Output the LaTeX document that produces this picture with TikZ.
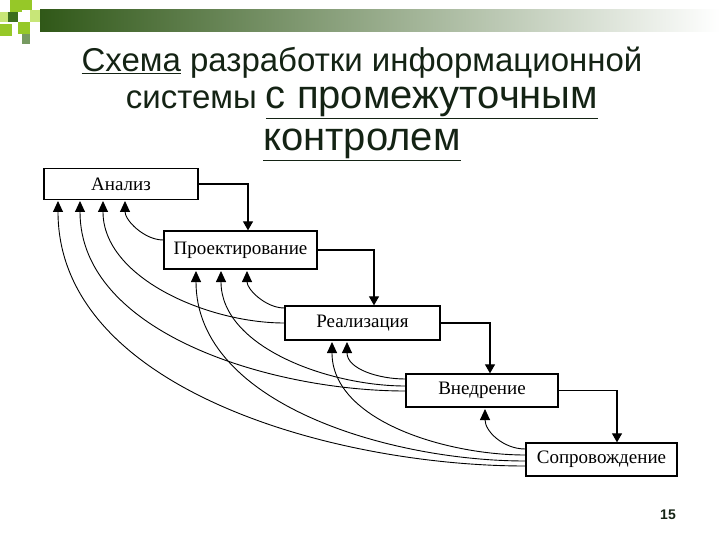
\documentclass[tikz,border=0pt]{standalone}
\usepackage{fontspec}
\setmainfont{Liberation Serif}
\newfontfamily\arialf{Liberation Sans}
\usetikzlibrary{arrows.meta}
\definecolor{ttl}{RGB}{20,35,20}
\definecolor{gA}{RGB}{60,110,30}
\definecolor{gB}{RGB}{150,200,40}
\definecolor{gC}{RGB}{200,230,120}
\tikzset{
  stage/.style={draw,line width=1.3pt,minimum height=31pt,inner sep=0pt,font=\fontsize{19}{19}\selectfont},
  fwd/.style={line width=1.2pt,-{Triangle[length=9pt,width=10pt]}},
  back/.style={line width=0.9pt,-{Triangle[length=11pt,width=10pt]}},
  ttlnode/.style={text=ttl,inner sep=0pt}
}
\begin{document}
\begin{tikzpicture}[x=1pt,y=-1pt]
\useasboundingbox (0,0) rectangle (720,540);
% banner
\shade[left color=gA!80!black,right color=white] (40,10) rectangle (720,32);
\fill[gB] (10,0) rectangle (22,12);
\fill[gC] (0,12) rectangle (10,22);
\fill[gA] (8,12) rectangle (18,22);
\fill[gB] (22,0) rectangle (32,10);
\fill[gB] (18,22) rectangle (30,34);
\fill[gC] (30,10) rectangle (40,22);
\fill[gB] (0,24) rectangle (12,36);
\fill[gA!70] (22,34) rectangle (30,44);
% title
\node[ttlnode,font=\arialf\fontsize{33}{33}\selectfont] (t1) at (362,63) {\underline{Схема} разработки информационной};
\node[ttlnode,font=\arialf\fontsize{33}{33}\selectfont] (t2) at (362,103) {системы {\fontsize{40}{40}\selectfont\underline{с промежуточным}}};
\node[ttlnode,font=\arialf\fontsize{40}{40}\selectfont] (t3) at (362,145) {\underline{контролем}};
\node[font=\arialf\bfseries\fontsize{14}{14}\selectfont,text=ttl] (pg) at (668,515) {15};
% stages
\node[stage,minimum width=154pt] (a) at (121,184) {Анализ};
\node[stage,minimum width=153pt,minimum height=38pt] (p) at (240.5,250) {Проектирование};
\node[stage,minimum width=155pt,minimum height=34pt] (r) at (362.5,323) {Реализация};
\node[stage,minimum width=152pt,minimum height=33pt] (v) at (482,390.5) {Внедрение};
\node[stage,minimum width=151pt,minimum height=33pt] (s) at (601.5,459.5) {Сопровождение};
% forward
\draw[fwd] (a.east) -| (p.north -| 248,0);
\draw[fwd] (p.east) -| (374,0 |- r.north);
\draw[fwd] (r.east) -| (490,0 |- v.north);
\draw[fwd] (v.east) -| (617,0 |- s.north);
% feedback targets
\coordinate (a1) at (58,201); \coordinate (a2) at (80,201);
\coordinate (a3) at (103,201); \coordinate (a4) at (125,201);
\coordinate (p1) at (196,271); \coordinate (p2) at (221,271); \coordinate (p3) at (247,271);
\coordinate (r1) at (332,342); \coordinate (r2) at (347,342);
\coordinate (v1) at (485,409);
% feedback
\draw[back] (p.west |- 0,240) to[out=180,in=-90,looseness=0.9] (a4);
\draw[back] (r.west |- 0,323) to[out=180,in=-90,looseness=0.9] (a3);
\draw[back] (r.west |- 0,308) to[out=180,in=-90,looseness=0.9] (p3);
\draw[back] (v.west |- 0,379) to[out=180,in=-90,looseness=1.0] (r2);
\draw[back] (v.west |- 0,386) to[out=180,in=-90,looseness=0.9] (p2);
\draw[back] (v.west |- 0,391) to[out=180,in=-90,looseness=0.9] (a2);
\draw[back] (s.west |- 0,449) to[out=180,in=-90,looseness=1.0] (v1);
\draw[back] (s.west |- 0,455) to[out=180,in=-90,looseness=0.9] (r1);
\draw[back] (s.west |- 0,461) to[out=180,in=-90,looseness=0.9] (p1);
\draw[back] (s.west |- 0,466) to[out=180,in=-90,looseness=0.9] (a1);
\end{tikzpicture}
\end{document}
